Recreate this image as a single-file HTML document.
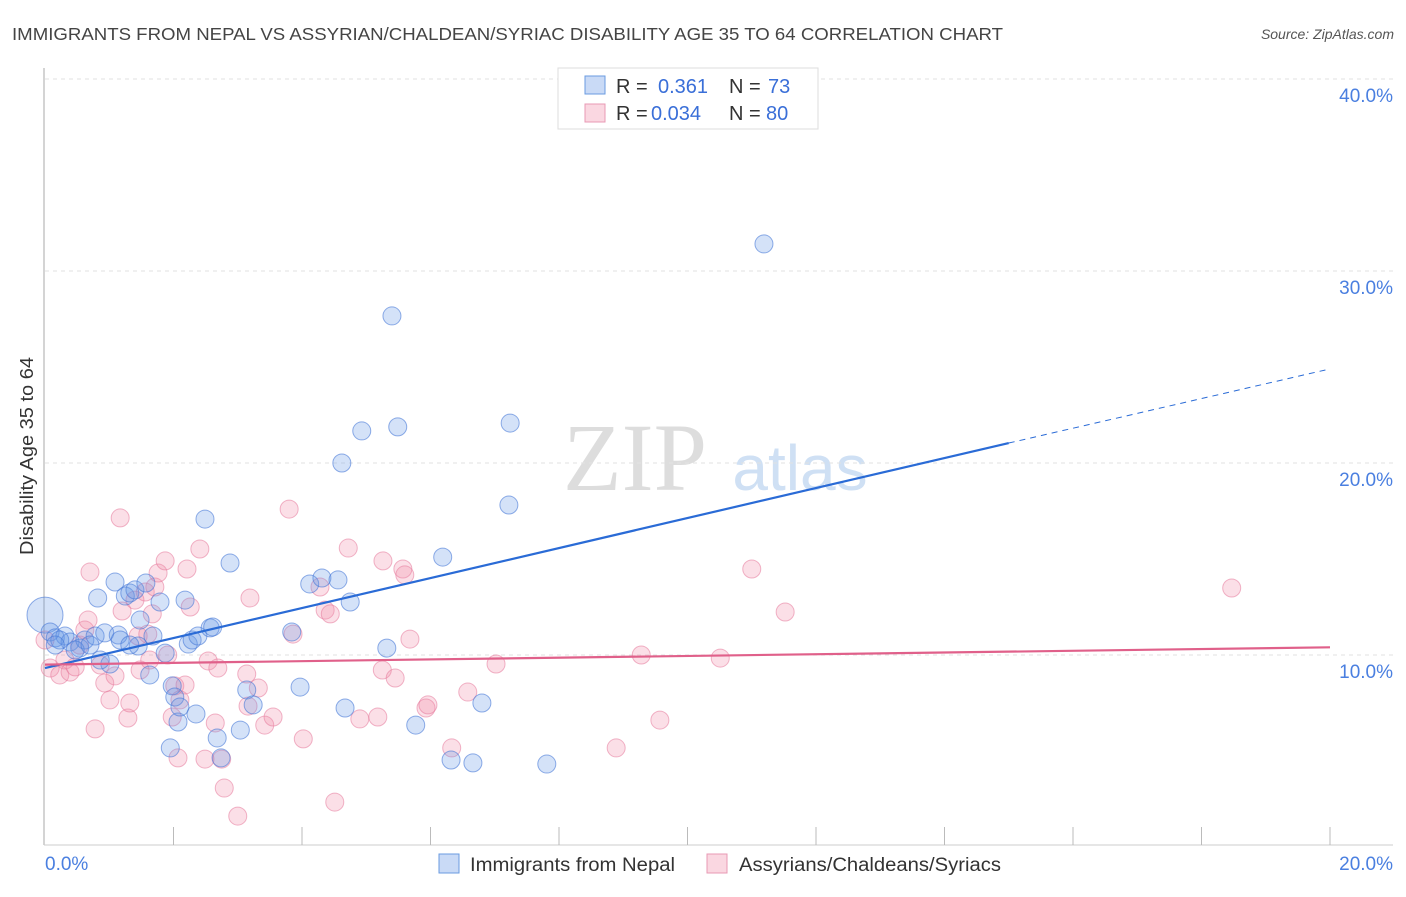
<!DOCTYPE html>
<html><head><meta charset="utf-8"><style>
body{margin:0;background:#fff;font-family:"Liberation Sans",sans-serif;}
svg text{font-family:"Liberation Sans",sans-serif;}
</style></head><body>
<svg id="chart" width="1406" height="892" xmlns="http://www.w3.org/2000/svg">
<text x="12" y="40" font-size="17.5" fill="#444" textLength="991" lengthAdjust="spacingAndGlyphs">IMMIGRANTS FROM NEPAL VS ASSYRIAN/CHALDEAN/SYRIAC DISABILITY AGE 35 TO 64 CORRELATION CHART</text>
<text x="1394" y="39" font-size="14" fill="#555" font-style="italic" text-anchor="end">Source: ZipAtlas.com</text>
<g>
<text x="635" y="490" font-size="96" fill="#ddd" font-family="Liberation Serif" text-anchor="middle" style="font-family:'Liberation Serif',serif">ZIP</text>
<text x="800" y="490" font-size="64" fill="#cfe0f4" text-anchor="middle">atlas</text>
</g>
<g id="grid"></g>
<g id="axes"></g>
<g id="points"></g>
<g id="trends"></g>
<text transform="translate(33,456) rotate(-90)" font-size="18" fill="#333" text-anchor="middle" textLength="198" lengthAdjust="spacingAndGlyphs">Disability Age 35 to 64</text>
<g>
<rect x="558" y="68" width="260" height="61" fill="#fff" stroke="#ddd"/>
<rect x="585" y="76" width="20" height="18" fill="rgba(100,150,230,0.35)" stroke="#6a9be0"/>
<rect x="585" y="104" width="20" height="18" fill="rgba(240,140,170,0.35)" stroke="#e89ab4"/>
<text y="93" font-size="20" fill="#333"><tspan x="616">R =</tspan><tspan x="658" fill="#3a6fd8">0.361</tspan><tspan x="729">N =</tspan><tspan x="768" fill="#3a6fd8">73</tspan></text>
<text y="120" font-size="20" fill="#333"><tspan x="616">R =</tspan><tspan x="651" fill="#3a6fd8">0.034</tspan><tspan x="729">N =</tspan><tspan x="766" fill="#3a6fd8">80</tspan></text>
</g>
<g>
<rect x="439" y="854" width="20" height="19" fill="rgba(100,150,230,0.35)" stroke="#6a9be0"/>
<text x="470" y="871" font-size="19" fill="#333" textLength="205" lengthAdjust="spacingAndGlyphs">Immigrants from Nepal</text>
<rect x="707" y="854" width="20" height="19" fill="rgba(240,140,170,0.35)" stroke="#e89ab4"/>
<text x="739" y="871" font-size="19" fill="#333" textLength="262" lengthAdjust="spacingAndGlyphs">Assyrians/Chaldeans/Syriacs</text>
</g>
</svg>
<script>
const yTicks=[10,20,30,40];
const yTickLabels=["10.0%","20.0%","30.0%","40.0%"];
const xTickLabels=["0.0%","20.0%"];
const blueX=[0,.08,.16,.31,.39,.54,.62,.78,.82,.93,1.01,1.09,1.14,1.25,1.32,1.40,1.45,1.48,1.57,1.63,1.68,1.79,1.87,1.95,1.98,2.02,2.07,2.10,2.18,2.23,2.29,2.35,2.38,2.49,2.57,2.61,2.68,2.74,2.88,3.04,3.14,3.24,3.84,3.97,4.12,4.31,4.56,4.67,4.75,4.62,4.93,5.32,5.40,5.49,5.77,6.19,6.32,6.66,6.80,7.22,7.24,7.81,11.19,.47,.70,.86,1.17,1.32,.23,.16];
const blueY=[12.08,11.20,10.89,10.99,10.68,10.36,10.78,10.99,12.97,11.15,9.53,13.80,11.04,13.07,13.23,13.39,10.47,11.82,13.75,8.96,10.99,12.76,10.10,5.16,8.39,7.81,6.51,7.29,12.86,10.57,10.78,6.93,10.99,17.08,11.41,11.46,5.68,4.64,14.79,6.09,8.18,7.40,11.20,8.33,13.70,14.01,13.91,7.24,12.76,20.00,21.67,10.36,27.66,21.88,6.35,15.10,4.53,4.38,7.50,17.81,22.08,4.32,31.41,10.26,10.52,9.74,10.78,10.52,10.78,10.52];
const pinkX=[0,.08,.23,.31,.39,.47,.54,.62,.67,.70,.78,.86,.93,1.01,1.09,1.17,1.20,1.29,1.32,1.45,1.48,1.56,1.60,1.67,1.71,1.76,1.87,1.91,1.98,2.02,2.07,2.10,2.18,2.21,2.26,2.41,2.49,2.54,2.65,2.69,2.75,2.79,3.00,3.14,3.16,3.19,3.32,3.42,3.55,3.80,3.86,4.02,4.28,4.36,4.44,4.51,4.72,4.90,5.18,5.25,5.26,5.45,5.57,5.60,5.68,5.93,5.96,6.33,6.58,7.02,8.89,9.28,9.57,10.51,11.00,11.52,18.47,1.63,1.40];
const pinkY=[10.78,9.32,8.96,9.74,9.11,9.38,10.52,11.30,11.82,14.32,6.15,9.48,8.54,7.66,8.91,17.14,12.29,6.72,7.50,10.99,9.22,13.28,11.09,12.14,13.54,14.27,14.90,10.00,6.77,8.39,4.64,7.66,8.44,14.48,12.50,15.52,4.58,9.69,6.46,9.32,4.58,3.07,1.61,9.01,7.34,12.97,8.28,6.35,6.77,17.60,11.09,5.63,13.54,12.34,12.14,2.34,15.57,6.67,6.77,9.22,14.90,8.80,14.48,14.17,10.83,7.24,7.40,5.16,8.07,9.53,5.16,10.00,6.61,9.84,14.48,12.24,13.49,9.74,12.86];
const blueTrend=[[0,9.32],[15,21.04],[20,24.9]];
const pinkTrend=[[0,9.5],[20,10.4]];
const NS="http://www.w3.org/2000/svg";
const X=v=>45+v*64.25, Y=v=>847-v*19.2;
function mk(tag,attrs,parent){const e=document.createElementNS(NS,tag);for(const k in attrs)e.setAttribute(k,attrs[k]);document.getElementById(parent).appendChild(e);return e;}
yTicks.forEach((t,i)=>{
 const g=mk('line',{x1:45,x2:1393,y1:Y(t),y2:Y(t),stroke:'#e2e2e2','stroke-dasharray':'4,4'},'grid');
 
 
 const l=mk('text',{x:1393,y:Y(t)+23,'font-size':19,fill:'#4a7fe0','text-anchor':'end'},'axes');
 l.textContent=yTickLabels[i];
 
 
});
mk('line',{x1:44,x2:44,y1:68,y2:845,stroke:'#aaa'},'axes');
mk('line',{x1:44,x2:1393,y1:845,y2:845,stroke:'#ccc'},'axes');
for(let i=1;i<=10;i++){mk('line',{x1:X(i*2),x2:X(i*2),y1:827,y2:845,stroke:'#bbb'},'axes');}
const xl0=mk('text',{x:45,y:870,'font-size':19,fill:'#4a7fe0'},'axes');xl0.textContent=xTickLabels[0];


const xl1=mk('text',{x:1393,y:870,'font-size':19,fill:'#4a7fe0','text-anchor':'end'},'axes');xl1.textContent=xTickLabels[1];


pinkX.forEach((x,i)=>{
 const c=mk('circle',{cx:X(x),cy:Y(pinkY[i]),r:9,fill:'rgba(240,140,170,0.28)',stroke:'rgba(230,120,155,0.55)','stroke-width':1},'points');
 
 
});
blueX.forEach((x,i)=>{
 const c=mk('circle',{cx:X(x),cy:Y(blueY[i]),r:i===0?18:9,fill:'rgba(100,150,230,0.28)',stroke:'rgba(70,120,215,0.6)','stroke-width':1},'points');
 
 
});
const b1=mk('line',{x1:X(blueTrend[0][0]),y1:Y(blueTrend[0][1]),x2:X(blueTrend[1][0]),y2:Y(blueTrend[1][1]),stroke:'#2a6bd6','stroke-width':2.2},'trends');


const b2=mk('line',{x1:X(blueTrend[1][0]),y1:Y(blueTrend[1][1]),x2:X(blueTrend[2][0]),y2:Y(blueTrend[2][1]),stroke:'#2a6bd6','stroke-width':1,'stroke-dasharray':'6,5'},'trends');


const p1=mk('line',{x1:X(pinkTrend[0][0]),y1:Y(pinkTrend[0][1]),x2:X(pinkTrend[1][0]),y2:Y(pinkTrend[1][1]),stroke:'#e0608a','stroke-width':2.2},'trends');


</script>
</body></html>
